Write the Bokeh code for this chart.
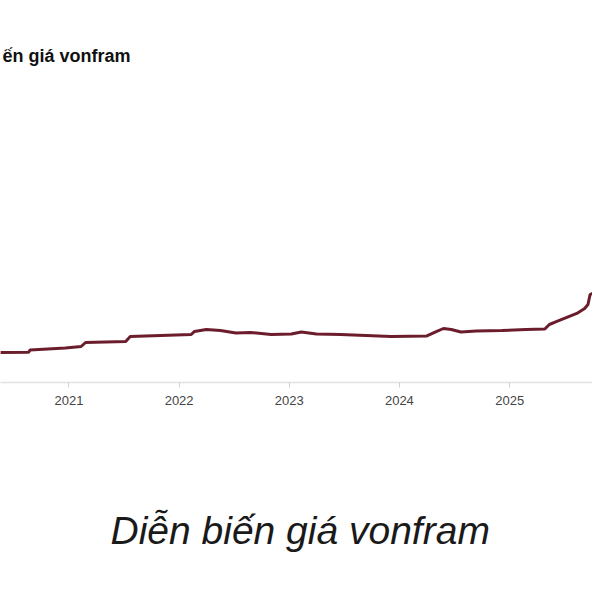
from datetime import datetime, timezone
from bokeh.plotting import figure
from bokeh.models import Title, FixedTicker, DatetimeTickFormatter, Range1d
from bokeh.embed import file_html
from bokeh.resources import INLINE

dates = ["2020-05-18", "2020-08-20", "2020-08-25", "2020-12-20", "2021-02-10", "2021-02-25",
         "2021-07-08", "2021-07-23", "2022-02-10", "2022-02-21", "2022-04-01", "2022-05-18",
         "2022-07-08", "2022-08-25", "2022-11-02", "2023-01-08", "2023-02-10", "2023-04-01",
         "2023-06-20", "2023-09-12", "2023-12-05", "2024-04-01", "2024-05-04", "2024-05-26",
         "2024-06-21", "2024-07-23", "2024-09-12", "2024-12-05", "2025-02-24", "2025-04-27",
         "2025-05-12", "2025-06-06", "2025-07-09", "2025-08-11", "2025-09-06", "2025-09-17",
         "2025-09-24", "2025-10-08", "2025-10-19", "2025-11-03"]
prices = [225, 226, 244, 259, 270, 300,
          308, 345, 360, 383, 398, 390,
          371, 375, 360, 364, 379, 364,
          360, 353, 345, 349, 383, 405,
          398, 379, 386, 390, 398, 401,
          435, 458, 488, 518, 555, 585,
          660, 675, 743, 773]
tick_years = [2020, 2021, 2022, 2023, 2024, 2025, 2026]

x = [datetime.strptime(d, "%Y-%m-%d") for d in dates]

p = figure(width=592, height=584, x_axis_type="datetime", y_axis_location=None,
           output_backend="svg", toolbar_location=None,
           x_range=Range1d(datetime(2020, 5, 19), datetime(2025, 10, 2)),
           y_range=Range1d(0, 2340),
           min_border_left=0, min_border_right=0, min_border_top=70, min_border_bottom=202)

p.line(x, prices, line_color="#6b1d2b", line_width=3)

p.title.text = "ến giá vonfram"
p.title.text_font = "Liberation Sans"
p.title.text_font_size = "18px"
p.title.text_font_style = "bold"
p.title.text_color = "#111111"
p.title.align = "left"
p.title.offset = 2
p.title.standoff = 9

spacer = Title(text=" ", text_font_size="10px", standoff=86)
p.add_layout(spacer, "below")

cap = Title(text="Diễn biến giá vonfram", align="left", offset=110, text_font="Liberation Sans",
            text_font_size="39px", text_font_style="italic", text_color="#1a1a1a",
            standoff=0)
p.add_layout(cap, "below")

ax = p.xaxis[0]
ax.ticker = FixedTicker(ticks=[datetime(y, 1, 1, tzinfo=timezone.utc).timestamp() * 1000 for y in tick_years])
ax.formatter = DatetimeTickFormatter(years="%Y", months="%Y", days="%Y", hours="%Y")
ax.axis_line_color = "#e2e2e2"
ax.axis_line_width = 1.5
ax.major_tick_line_color = "#d0d0d0"
ax.major_tick_out = 5
ax.major_tick_in = 0
ax.minor_tick_line_color = None
ax.major_label_text_font = "Liberation Sans"
ax.major_label_text_font_size = "13px"
ax.major_label_text_color = "#444444"
ax.major_label_standoff = 8

p.xgrid.visible = False
p.ygrid.visible = False
p.outline_line_color = None
p.background_fill_color = "white"
p.border_fill_color = "white"

open("out.html", "w").write(file_html(p, INLINE))
